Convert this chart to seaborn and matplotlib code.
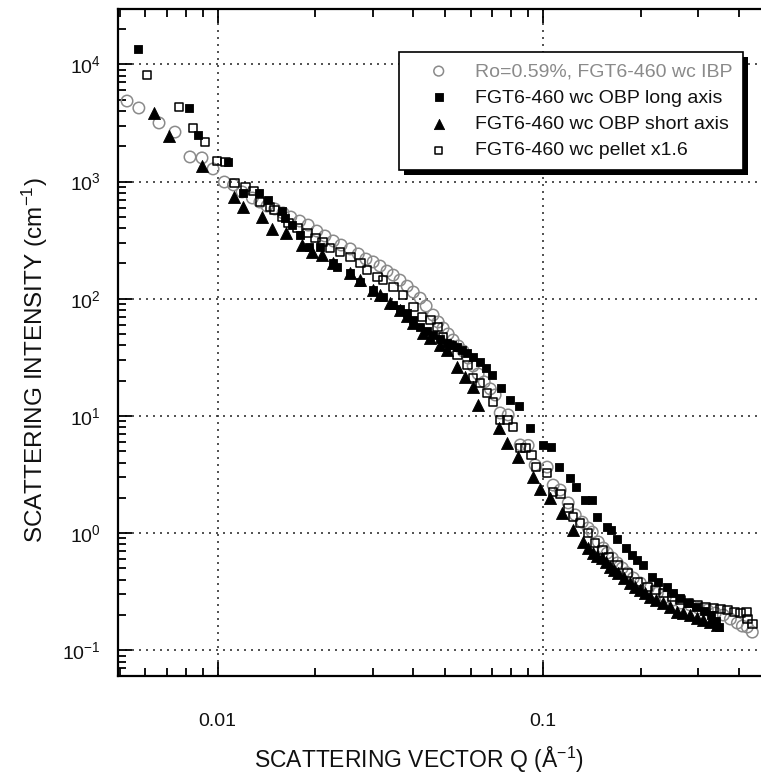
import numpy as np
import pandas as pd
import matplotlib
matplotlib.use("Agg")
import matplotlib.pyplot as plt
import matplotlib.ticker as mticker
import matplotlib.patheffects as pe
import seaborn as sns

# ---- SANS data: scattering vector Q (1/Angstrom) and intensity (1/cm) ----
ibp_q = [0.00527, 0.00573, 0.00661, 0.0074, 0.00823, 0.00896, 0.00969, 0.0105,
         0.0112, 0.0119, 0.0128, 0.0135, 0.0142, 0.0150, 0.0159, 0.0168, 0.0179,
         0.0190, 0.0202, 0.0214, 0.0227, 0.0240, 0.0256, 0.0271, 0.0286, 0.0301,
         0.0316, 0.0332, 0.0347, 0.0364, 0.0383, 0.0400, 0.0420, 0.0438, 0.0460,
         0.0477, 0.0494, 0.0512, 0.0530, 0.0550, 0.0569, 0.0590, 0.0611, 0.0633,
         0.0661, 0.0690, 0.0714, 0.0740, 0.0783, 0.0853, 0.0902, 0.0948, 0.1032,
         0.1077, 0.1132, 0.1198, 0.1259, 0.1323, 0.1380, 0.1420, 0.1482, 0.1535,
         0.1579, 0.1636, 0.1695, 0.1756, 0.1820, 0.1899, 0.1995, 0.2112, 0.2251,
         0.2383, 0.2521, 0.2668, 0.2844, 0.3009, 0.3207, 0.3395, 0.3593, 0.3776,
         0.3967, 0.4111, 0.4258, 0.4410]
ibp_i = [4860, 4240, 3160, 2640, 1620, 1590, 1280, 990,
         935, 815, 723, 668, 618, 583, 539, 498, 460,
         425, 378, 343, 311, 287, 266, 241, 218, 206,
         190, 172, 159, 144, 128, 114, 101, 86.7, 72.6,
         63.3, 56.2, 50.0, 44.4, 39.5, 35.8, 31.2, 26.7, 22.8,
         19.5, 17.0, 15.1, 10.6, 10.2, 5.65, 5.6, 3.81, 3.66,
         2.57, 2.33, 1.81, 1.43, 1.24, 1.105, 1.02, 0.840, 0.746,
         0.676, 0.613, 0.556, 0.504, 0.457, 0.414, 0.375, 0.340, 0.308,
         0.285, 0.269, 0.253, 0.2435, 0.2296, 0.2208, 0.208, 0.200, 0.185,
         0.171, 0.161, 0.158, 0.143]

long_q = [0.00569, 0.00817, 0.00871, 0.0108, 0.0120, 0.0134, 0.0143, 0.0158,
          0.0161, 0.0170, 0.0179, 0.0191, 0.0207, 0.0227, 0.0233, 0.0256, 0.0275,
          0.0301, 0.0323, 0.0347, 0.0364, 0.0383, 0.0400, 0.0420, 0.0441, 0.0460,
          0.0484, 0.0508, 0.0527, 0.0546, 0.0566, 0.0586, 0.0611, 0.0642, 0.0670,
          0.0699, 0.0745, 0.0794, 0.0847, 0.0915, 0.1003, 0.1062, 0.1124, 0.1215,
          0.1268, 0.1351, 0.1420, 0.1472, 0.1579, 0.1625, 0.1695, 0.1807, 0.1886,
          0.1953, 0.2038, 0.2173, 0.2267, 0.2416, 0.2521, 0.2649, 0.2804, 0.2967,
          0.3140, 0.3300, 0.3419, 0.3493]
long_i = [13500, 4240, 2490, 1470, 798, 798, 695, 560,
          488, 425, 350, 276, 276, 202, 186, 166, 139,
          119, 103, 88.3, 81.7, 75.5, 65.8, 57.4, 53.0, 49.0,
          45.3, 41.9, 40.3, 38.7, 36.5, 34.4, 31.8, 28.8, 25.6,
          22.3, 17.3, 13.7, 12.1, 7.89, 5.65, 5.43, 3.66, 2.95,
          2.47, 1.92, 1.92, 1.37, 1.13, 1.06, 0.891, 0.746, 0.650,
          0.589, 0.534, 0.422, 0.383, 0.347, 0.308, 0.279, 0.253, 0.234,
          0.216, 0.200, 0.178, 0.158]

short_q = [0.00638, 0.00709, 0.00896, 0.0112, 0.0120, 0.0137, 0.0147, 0.0162,
           0.0182, 0.0195, 0.0210, 0.0227, 0.0256, 0.0275, 0.0301, 0.0316, 0.0340,
           0.0364, 0.0383, 0.0400, 0.0429, 0.0451, 0.0484, 0.0508, 0.0546, 0.0577,
           0.0611, 0.0633, 0.0735, 0.0778, 0.0841, 0.0935, 0.0982, 0.1055, 0.1148,
           0.1241, 0.1332, 0.1380, 0.1430, 0.1472, 0.1525, 0.1569, 0.1614, 0.1660,
           0.1707, 0.1782, 0.1858, 0.1926, 0.1995, 0.2067, 0.2142, 0.2235, 0.2349,
           0.2468, 0.2593, 0.2706, 0.2844, 0.2988, 0.3118, 0.3277, 0.3443]
short_i = [3840, 2450, 1360, 737, 606, 498, 393, 364,
           287, 250, 236, 202, 166, 144, 119, 108, 91.9,
           80.1, 71.2, 62.0, 51.0, 46.2, 40.3, 36.5, 26.1, 21.5,
           17.6, 12.4, 7.89, 5.87, 4.46, 3.01, 2.38, 1.99, 1.48,
           1.06, 0.840, 0.746, 0.676, 0.638, 0.613, 0.567, 0.514, 0.484,
           0.457, 0.414, 0.375, 0.347, 0.327, 0.308, 0.285, 0.269, 0.253,
           0.234, 0.212, 0.208, 0.200, 0.189, 0.181, 0.174, 0.164]

pellet_q = [0.00607, 0.00761, 0.0084, 0.00915, 0.00997, 0.0106, 0.0113, 0.0122,
            0.0129, 0.0135, 0.0145, 0.0150, 0.0158, 0.0165, 0.0176, 0.0189, 0.0200,
            0.0210, 0.0222, 0.0238, 0.0256, 0.0275, 0.0288, 0.0310, 0.0323, 0.0347,
            0.0372, 0.0400, 0.0426, 0.0451, 0.0474, 0.0494, 0.0519, 0.0546, 0.0586,
            0.0611, 0.0642, 0.0675, 0.0704, 0.0740, 0.0778, 0.0811, 0.0853, 0.0884,
            0.0922, 0.0955, 0.1032, 0.1077, 0.1132, 0.1198, 0.1241, 0.1304, 0.1380,
            0.1450, 0.1525, 0.1591, 0.1695, 0.1820, 0.1953, 0.2097, 0.2219, 0.2349,
            0.2503, 0.2649, 0.2804, 0.2988, 0.3162, 0.3347, 0.3517, 0.3695, 0.3883,
            0.4053, 0.4228, 0.4258, 0.4410]
pellet_i = [8100, 4320, 2860, 2170, 1500, 1470, 971, 898,
            830, 668, 606, 571, 498, 442, 401, 364, 330,
            305, 271, 250, 227, 202, 176, 153, 144, 126,
            108, 85.0, 69.8, 65.8, 57.4, 47.1, 40.3, 33.1, 27.2,
            21.1, 19.1, 15.7, 13.1, 9.23, 9.23, 8.04, 5.32, 5.32,
            4.64, 3.66, 3.26, 2.24, 2.16, 1.64, 1.37, 1.22, 1.00,
            0.823, 0.718, 0.625, 0.534, 0.457, 0.383, 0.347, 0.327, 0.308,
            0.285, 0.269, 0.253, 0.244, 0.234, 0.230, 0.225, 0.221, 0.212,
            0.208, 0.212, 0.185, 0.168]

series_labels = ["Ro=0.59%, FGT6-460 wc IBP",
                 "FGT6-460 wc OBP long axis",
                 "FGT6-460 wc OBP short axis",
                 "FGT6-460 wc pellet x1.6"]

x_ticks = [0.01, 0.1]
x_tick_labels = ["0.01", "0.1"]
y_ticks = [0.1, 1, 10, 100, 1000, 10000]
y_tick_labels = ["$10^{-1}$", "$10^{0}$", "$10^{1}$", "$10^{2}$", "$10^{3}$", "$10^{4}$"]

# ---- style ----
sns.set_style("ticks")
plt.rcParams["font.family"] = ["Liberation Sans", "DejaVu Sans"]
plt.rcParams["mathtext.fontset"] = "custom"
plt.rcParams["mathtext.rm"] = "Liberation Sans"
plt.rcParams["mathtext.it"] = "Liberation Sans:italic"
plt.rcParams["mathtext.bf"] = "Liberation Sans:bold"
plt.rcParams["mathtext.default"] = "regular"
plt.rcParams["axes.unicode_minus"] = False

GRAY = "#8a8a8a"

fig = plt.figure(figsize=(7.61, 7.75), dpi=100)
ax = fig.add_axes([0.1547, 0.1281, 0.8453, 0.8609])

frames = {
    "ibp": pd.DataFrame({"q": ibp_q, "I": ibp_i}),
    "long": pd.DataFrame({"q": long_q, "I": long_i}),
    "short": pd.DataFrame({"q": short_q, "I": short_i}),
    "pellet": pd.DataFrame({"q": pellet_q, "I": pellet_i}),
}

sns.scatterplot(data=frames["ibp"], x="q", y="I", ax=ax, marker="o", s=68,
                facecolor="none", edgecolor=GRAY, linewidth=1.1,
                label=series_labels[0], zorder=3)
sns.scatterplot(data=frames["long"], x="q", y="I", ax=ax, marker="s", s=40,
                color="black", edgecolor="black", linewidth=0.6,
                label=series_labels[1], zorder=4)
sns.scatterplot(data=frames["short"], x="q", y="I", ax=ax, marker="^", s=75,
                color="black", edgecolor="black", linewidth=0.6,
                label=series_labels[2], zorder=4)
sns.scatterplot(data=frames["pellet"], x="q", y="I", ax=ax, marker="s", s=38,
                facecolor="none", edgecolor="black", linewidth=1.1,
                label=series_labels[3], zorder=3)

ax.set_xscale("log")
ax.set_yscale("log")
ax.set_xlim(0.004934, 0.469)
ax.set_ylim(0.0607, 29920)

ax.xaxis.set_major_locator(mticker.FixedLocator(x_ticks))
ax.xaxis.set_major_formatter(mticker.FixedFormatter(x_tick_labels))
ax.xaxis.set_minor_locator(mticker.LogLocator(base=10, subs=np.arange(2, 10), numticks=30))
ax.xaxis.set_minor_formatter(mticker.NullFormatter())
ax.yaxis.set_major_locator(mticker.FixedLocator(y_ticks))
ax.yaxis.set_major_formatter(mticker.FixedFormatter(y_tick_labels))
ax.yaxis.set_minor_locator(mticker.LogLocator(base=10, subs=np.arange(2, 10), numticks=30))
ax.yaxis.set_minor_formatter(mticker.NullFormatter())

ax.tick_params(which="both", direction="in", top=True, right=False,
               color="black", width=1.3, labelsize=14, labelcolor="#111111")
ax.tick_params(which="major", length=10)
ax.tick_params(which="minor", length=6)
ax.tick_params(axis="x", which="major", pad=27)
ax.tick_params(axis="y", which="major", pad=12)

for side in ["left", "bottom", "top"]:
    ax.spines[side].set_linewidth(1.6)
    ax.spines[side].set_color("black")
ax.spines["right"].set_visible(False)

ax.grid(which="major", axis="both", color="#333333", linestyle=(0, (1.2, 3.0)),
        linewidth=1.2)
ax.grid(which="minor", visible=False)
ax.set_axisbelow(True)

ax.set_xlabel("SCATTERING VECTOR Q (Å$^{-1}$)", fontsize=16.5, color="#111111")
ax.set_ylabel("SCATTERING INTENSITY (cm$^{-1}$)", fontsize=17.5, color="#111111")
ax.xaxis.set_label_coords(0.4676, -0.104)
ax.yaxis.set_label_coords(-0.106, 0.473)

leg = ax.legend(loc="upper left", bbox_to_anchor=(0.437, 0.935), borderaxespad=0,
                frameon=True, fancybox=False, edgecolor="black", framealpha=1,
                fontsize=14, borderpad=0.55, handlelength=3.0, handletextpad=0.35,
                labelspacing=0.45, markerscale=0.85, scatterpoints=1)
leg.get_frame().set_linewidth(1.2)
leg.legendPatch.set_path_effects([
    pe.SimplePatchShadow(offset=(3.5, -3.5), shadow_rgbFace="black", alpha=1.0),
    pe.Normal(),
])
leg.get_texts()[0].set_color(GRAY)
for t in leg.get_texts()[1:]:
    t.set_color("#111111")

fig.savefig("out.png", dpi=100)
